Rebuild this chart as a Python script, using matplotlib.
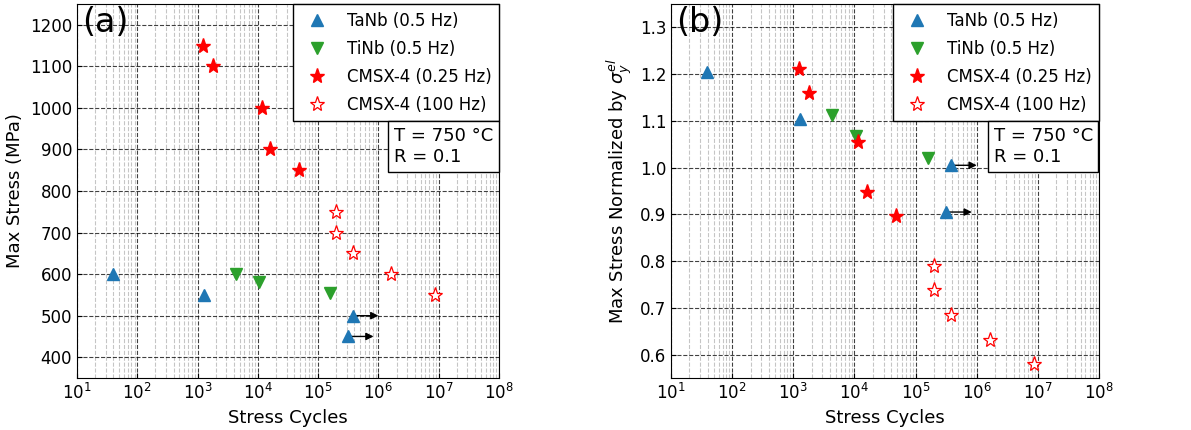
import matplotlib
matplotlib.use("Agg")
import matplotlib.pyplot as plt
import numpy as np

# ---- data ----
tanb_cycles = [39, 1300, 3.8e5, 3.16e5]
tanb_stress = [600, 550, 500, 450]
tanb_norm = [1.205, 1.104, 1.005, 0.905]
tanb_runout = [False, False, True, True]
tanb_arrow_end = [None, None, 1.0e6, 8.3e5]

tinb_cycles = [4300, 10500, 1.58e5]
tinb_stress = [600, 580, 555]
tinb_norm = [1.113, 1.067, 1.02]

cmsx_lf_cycles = [1245, 1820, 11500, 16200, 48700]
cmsx_lf_stress = [1150, 1100, 1000, 900, 850]
cmsx_lf_norm = [1.212, 1.159, 1.054, 0.948, 0.896]

cmsx_hf_cycles = [1.97e5, 1.97e5, 3.8e5, 1.62e6, 8.7e6]
cmsx_hf_stress = [750, 700, 650, 600, 550]
cmsx_hf_norm = [0.790, 0.738, 0.685, 0.632, 0.580]

labels = ["TaNb (0.5 Hz)", "TiNb (0.5 Hz)", "CMSX-4 (0.25 Hz)", "CMSX-4 (100 Hz)"]

plt.rcParams['font.family'] = ['DejaVu Sans']
fs = 12

fig = plt.figure(figsize=(11.91, 4.30), dpi=100)
ax1 = fig.add_axes([77/1191, 52/430, 422/1191, 374/430])
ax2 = fig.add_axes([671/1191, 52/430, 428/1191, 374/430])

def draw(ax, ta, ti, lf, hf, ylim, yticks, ylabel, tag):
    ms = 9
    ax.plot(tanb_cycles, ta, '^', color='#1f77b4', ms=ms, ls='none', label=labels[0], zorder=5)
    ax.plot(tinb_cycles, ti, 'v', color='#2ca02c', ms=ms, ls='none', label=labels[1], zorder=5)
    ax.plot(cmsx_lf_cycles, lf, '*', color='red', ms=ms+2, ls='none', label=labels[2], zorder=5)
    ax.plot(cmsx_hf_cycles, hf, '*', mfc='white', mec='red', mew=0.9, ms=ms+2, ls='none', label=labels[3], zorder=5)
    for x, y, r, xe in zip(tanb_cycles, ta, tanb_runout, tanb_arrow_end):
        if r:
            ax.annotate('', xy=(xe, y), xytext=(x, y),
                        arrowprops=dict(arrowstyle='-|>', color='k', lw=1, mutation_scale=11,
                                        shrinkA=0, shrinkB=0), zorder=4)
    ax.set_xscale('log')
    ax.set_xlim(10, 1e8)
    ax.set_ylim(*ylim)
    ax.set_yticks(yticks)
    ax.set_xticks([10**k for k in range(1, 9)])
    ax.tick_params(axis='both', which='both', direction='in', labelsize=fs)
    ax.tick_params(which='minor', length=0)
    ax.grid(True, which='major', ls='--', color='k', lw=0.8, alpha=0.75)
    ax.grid(True, which='minor', ls='--', color='gray', lw=0.8, alpha=0.45)
    ax.set_axisbelow(True)
    ax.set_xlabel('Stress Cycles', fontsize=fs + 1)
    ax.set_ylabel(ylabel, fontsize=fs + 1)
    ax.text(0.012, 0.995, tag, transform=ax.transAxes, fontsize=24, va='top', ha='left', zorder=6)
    leg = ax.legend(loc='upper right', borderaxespad=0, fancybox=False, framealpha=1,
                    edgecolor='k', fontsize=fs, handletextpad=0.8, borderpad=0.45,
                    labelspacing=0.6)
    leg.get_frame().set_linewidth(1.0)
    ax.text(0.986, 0.672, 'T = 750 \u00b0C\nR = 0.1', transform=ax.transAxes, fontsize=fs + 1,
            va='top', ha='right', multialignment='left', linespacing=1.25,
            bbox=dict(boxstyle='square,pad=0.3', fc='white', ec='k', lw=1.0), zorder=7)

draw(ax1, tanb_stress, tinb_stress, cmsx_lf_stress, cmsx_hf_stress, (350, 1250),
     list(range(400, 1201, 100)), 'Max Stress (MPa)', '(a)')
draw(ax2, tanb_norm, tinb_norm, cmsx_lf_norm, cmsx_hf_norm, (0.55, 1.35),
     [0.6, 0.7, 0.8, 0.9, 1.0, 1.1, 1.2, 1.3], r'Max Stress Normalized by $\sigma_y^{el}$', '(b)')
ax2.yaxis.set_major_formatter(matplotlib.ticker.FormatStrFormatter('%.1f'))

fig.savefig('out.png', dpi=100)
